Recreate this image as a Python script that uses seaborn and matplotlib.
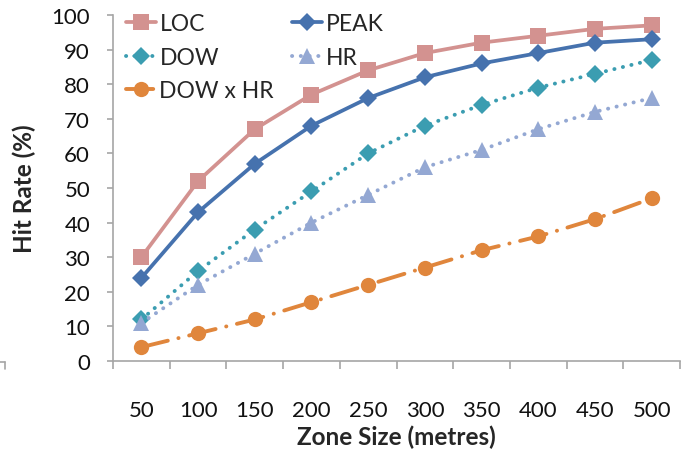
import matplotlib
matplotlib.use("Agg")
import matplotlib.pyplot as plt
import seaborn as sns
import pandas as pd
from matplotlib.lines import Line2D

zone_sizes = ["50", "100", "150", "200", "250", "300", "350", "400", "450", "500"]
loc = [30, 52, 67, 77, 84, 89, 92, 94, 96, 97]
peak = [24, 43, 57, 68, 76, 82, 86, 89, 92, 93]
dow = [12, 26, 38, 49, 60, 68, 74, 79, 83, 87]
hr = [11, 22, 31, 40, 48, 56, 61, 67, 72, 76]
dow_x_hr = [4, 8, 12, 17, 22, 27, 32, 36, 41, 47]

series_names = ["LOC", "PEAK", "DOW", "HR", "DOW x HR"]
series_values = [loc, peak, dow, hr, dow_x_hr]

sns.set_theme(style="white")
plt.rcParams["font.family"] = ["Lato", "DejaVu Sans"]

df = pd.concat(
    [pd.DataFrame({"zone": range(len(zone_sizes)), "rate": v, "series": n})
     for n, v in zip(series_names, series_values)],
    ignore_index=True,
)

styles = {
    "LOC": dict(color="#D39290", marker="s", ms=11, lw=2.7, ls="-"),
    "PEAK": dict(color="#4672AE", marker="D", ms=9, lw=2.7, ls="-"),
    "DOW": dict(color="#3B9DB1", marker="D", ms=9, lw=2.8, ls=(0, (0.05, 2.2))),
    "HR": dict(color="#94A8D3", marker="^", ms=11.5, lw=2.8, ls=(0, (0.05, 2.2))),
    "DOW x HR": dict(color="#E0863C", marker="o", ms=11, lw=2.8, ls=(0, (7, 2.8, 0.05, 2.8))),
}

fig = plt.figure(figsize=(6.87, 4.56), dpi=100)
ax = fig.add_axes([113 / 687, 1 - 362 / 456, (680 - 113) / 687, (362 - 16) / 456])

for name in series_names:
    st = styles[name]
    sub = df[df["series"] == name]
    sns.lineplot(data=sub, x="zone", y="rate", ax=ax, color=st["color"],
                 linewidth=st["lw"], linestyle=st["ls"], marker=st["marker"],
                 markersize=st["ms"], markeredgewidth=0, dash_capstyle="round",
                 solid_capstyle="round", legend=False)

ax.set_xlim(-0.5, len(zone_sizes) - 0.5)
ax.set_ylim(0, 100)
ax.set_yticks(range(0, 101, 10))
ax.set_xticks(range(len(zone_sizes)))
ax.set_xticklabels(zone_sizes)
ax.set_xticks([i - 0.5 for i in range(len(zone_sizes) + 1)], minor=True)

for side in ["top", "right"]:
    ax.spines[side].set_visible(False)
for side in ["left", "bottom"]:
    ax.spines[side].set_color("#A6A6A6")
    ax.spines[side].set_linewidth(1.2)

ax.tick_params(axis="y", which="major", direction="out", length=4.5, width=1.2,
               color="#A6A6A6", labelsize=16, pad=12, left=True, labelcolor="#111111")
ax.tick_params(axis="x", which="major", length=0, labelsize=16, pad=28,
               labelcolor="#111111")
ax.tick_params(axis="x", which="minor", direction="out", length=5.5, width=1.2,
               color="#A6A6A6", bottom=True)

ax.set_xlabel("Zone Size (metres)", fontsize=17.5, fontweight="bold")
ax.set_ylabel("Hit Rate (%)", fontsize=17.5, fontweight="bold")
ax.xaxis.set_label_coords(0.5, -0.185)
ax.yaxis.set_label_coords(-0.135, 0.5)

handles = {}
for name in series_names:
    st = styles[name]
    handles[name] = Line2D([], [], color=st["color"], lw=st["lw"], ls=st["ls"],
                           marker=st["marker"], ms=st["ms"], markeredgewidth=0,
                           dash_capstyle="round", solid_capstyle="round")
# two columns filled row by row: LOC, PEAK / DOW, HR / DOW x HR
leg_order = ["LOC", "DOW", "DOW x HR", "PEAK", "HR"]
fig.legend([handles[n] for n in leg_order], leg_order, loc="upper left",
           bbox_to_anchor=(117 / 687, 1 - 5 / 456), ncol=2, frameon=False,
           fontsize=16.5, handlelength=1.3, handletextpad=0.15,
           columnspacing=0.8, labelspacing=0.55, borderpad=0.4, borderaxespad=0)

# short stub of the outer frame at the lower left
fig.add_artist(Line2D([5 / 687, 5 / 687], [1 - 363 / 456, 1 - 370 / 456],
                      color="#A6A6A6", lw=1.2))
fig.add_artist(Line2D([0, 5 / 687], [1 - 363 / 456, 1 - 363 / 456],
                      color="#A6A6A6", lw=1.2))

fig.savefig("out.png", dpi=100)
